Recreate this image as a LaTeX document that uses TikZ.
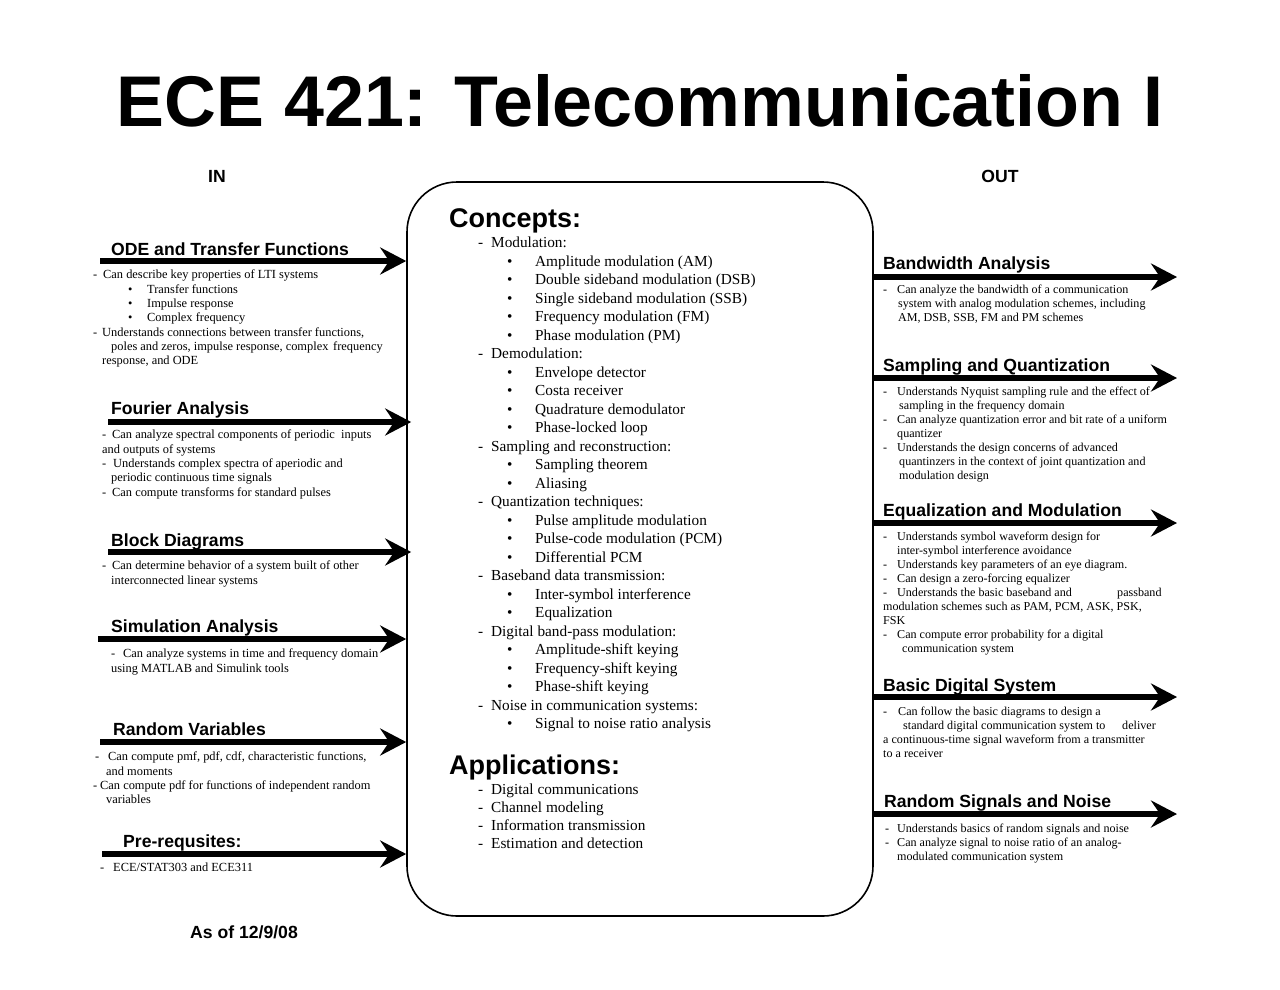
\documentclass[tikz,border=0pt]{standalone}
\usepackage{fontspec}
\setmainfont{Liberation Serif}
\newfontfamily\headfont{Liberation Sans}
\usetikzlibrary{arrows.meta}

\newcommand{\hy}[1]{\makebox[#1][l]{-}}
\newcommand{\bul}[2]{\hspace*{#1}\makebox[#2][l]{\textbullet}}
\newcommand{\sbul}{\bul{35pt}{19pt}}
\newcommand{\cbul}{\bul{29pt}{28pt}}

\begin{document}
\begin{tikzpicture}[x=1pt,y=-1pt,
  heading/.style={font=\headfont\bfseries\fontsize{17.6}{20}\selectfont,anchor=base west,inner sep=0pt},
  bighead/.style={font=\headfont\bfseries\fontsize{27}{30}\selectfont,anchor=base west,inner sep=0pt},
  textblock/.style={anchor=north west,inner sep=0pt,align=left,yshift=#1,yshift=-2pt,execute at begin node={\rule{0pt}{#1}}},
  lefttext/.style={textblock=10pt,font=\fontsize{12.4}{14.3}\selectfont},
  righttext/.style={textblock=10pt,font=\fontsize{12.1}{14}\selectfont},
  coretext/.style={textblock=13pt,font=\fontsize{15.3}{18.5}\selectfont},
  flow/.style={line width=5.5pt,-{Stealth[length=26pt,width=27pt,inset=9pt]}}]

\useasboundingbox (0,0) rectangle (1280,989);

% title
\node[font=\headfont\bfseries\fontsize{71.8}{80}\selectfont,anchor=base,inner sep=0pt] (title) at (640,126) {ECE 421: Telecommunication I};
\node[heading,anchor=base] (in) at (217,182) {IN};
\node[heading,anchor=base] (out) at (1000,182) {OUT};

% central box
\node[draw,line width=1.6pt,rounded corners=50pt,minimum width=466pt,minimum height=734pt,inner sep=0pt] (core) at (640,549) {};

\node[bighead] (concepts) at (449,227) {Concepts:};
\node[coretext] (conceptList) at (478,248) {\hy{13pt}Modulation:\\
\cbul Amplitude modulation (AM)\\
\cbul Double sideband modulation (DSB)\\
\cbul Single sideband modulation (SSB)\\
\cbul Frequency modulation (FM)\\
\cbul Phase modulation (PM)\\
\hy{13pt}Demodulation:\\
\cbul Envelope detector\\
\cbul Costa receiver\\
\cbul Quadrature demodulator\\
\cbul Phase-locked loop\\
\hy{13pt}Sampling and reconstruction:\\
\cbul Sampling theorem\\
\cbul Aliasing\\
\hy{13pt}Quantization techniques:\\
\cbul Pulse amplitude modulation\\
\cbul Pulse-code modulation (PCM)\\
\cbul Differential PCM\\
\hy{13pt}Baseband data transmission:\\
\cbul Inter-symbol interference\\
\cbul Equalization\\
\hy{13pt}Digital band-pass modulation:\\
\cbul Amplitude-shift keying\\
\cbul Frequency-shift keying\\
\cbul Phase-shift keying\\
\hy{13pt}Noise in communication systems:\\
\cbul Signal to noise ratio analysis};

\node[bighead] (apps) at (449,774) {Applications:};
\node[coretext,font=\fontsize{15.3}{18}\selectfont] (appList) at (478,795) {\hy{13pt}Digital communications\\
\hy{13pt}Channel modeling\\
\hy{13pt}Information transmission\\
\hy{13pt}Estimation and detection};

% inputs
\node[heading] (ode) at (111,255) {ODE and Transfer Functions};
\coordinate (odeIn) at (100,261);
\draw[flow] (odeIn) -- (odeIn -| core.west);
\node[lefttext] (odeTxt) at (93,278) {\hy{10pt}Can describe key properties of LTI systems\\
\sbul Transfer functions\\
\sbul Impulse response\\
\sbul Complex frequency\\
\hy{9pt}Understands connections between transfer functions,\\
\hspace*{18pt}\makebox[222pt][l]{poles and zeros, impulse response, complex}frequency\\
\hspace*{9pt}response, and ODE};

\node[heading] (fourier) at (111,414) {Fourier Analysis};
\coordinate (fourierIn) at (108,422);
\draw[flow,shorten >=-5pt] (fourierIn) -- (fourierIn -| core.west);
\node[lefttext] (fourierTxt) at (102,438) {\hy{10pt}Can analyze spectral components of periodic\ \ inputs\\
and outputs of systems\\
\hy{11pt}Understands complex spectra of aperiodic and\\
\hspace*{9pt}periodic continuous time signals\\
\hy{10pt}Can compute transforms for standard pulses};

\node[heading] (block) at (111,546) {Block Diagrams};
\coordinate (blockIn) at (108,552);
\draw[flow,shorten >=-5pt] (blockIn) -- (blockIn -| core.west);
\node[lefttext] (blockTxt) at (102,569) {\hy{10pt}Can determine behavior of a system built of other\\
\hspace*{9pt}interconnected linear systems};

\node[heading] (simul) at (111,632) {Simulation Analysis};
\coordinate (simulIn) at (98,639);
\draw[flow] (simulIn) -- (simulIn -| core.west);
\node[lefttext] (simulTxt) at (111,657) {\hy{12pt}Can analyze systems in time and frequency domain\\
using MATLAB and Simulink tools};

\node[heading] (randvar) at (113,735) {Random Variables};
\coordinate (randvarIn) at (100,742);
\draw[flow] (randvarIn) -- (randvarIn -| core.west);
\node[lefttext] (randvarTxt) at (93,760) {\hspace*{2pt}\hy{13pt}Can compute pmf, pdf, cdf, characteristic functions,\\
\hspace*{13pt}and moments\\
\hy{7pt}Can compute pdf for functions of independent random\\
\hspace*{13pt}variables};

\node[heading] (prereq) at (123,847) {Pre-requsites:};
\coordinate (prereqIn) at (102,854);
\draw[flow] (prereqIn) -- (prereqIn -| core.west);
\node[lefttext] (prereqTxt) at (100,869) {\hy{13pt}ECE/STAT303 and ECE311};

\node[heading] (date) at (190,938) {As of 12/9/08};

% outputs
\node[heading] (bw) at (883,269) {Bandwidth Analysis};
\coordinate (bwOut) at (1177,277);
\draw[flow] (core.east |- bwOut) -- (bwOut);
\node[righttext] (bwTxt) at (883,293) {\hy{14pt}Can analyze the bandwidth of a communication\\
\hspace*{15pt}system with analog modulation schemes, including\\
\hspace*{15pt}AM, DSB, SSB, FM and PM schemes};

\node[heading] (sampq) at (883,371) {Sampling and Quantization};
\coordinate (sampqOut) at (1177,378);
\draw[flow] (core.east |- sampqOut) -- (sampqOut);
\node[righttext] (sampqTxt) at (883,395) {\hy{14pt}Understands Nyquist sampling rule and the effect of\\
\hspace*{16pt}sampling in the frequency domain\\
\hy{14pt}Can analyze quantization error and bit rate of a uniform\\
\hspace*{14pt}quantizer\\
\hy{14pt}Understands the design concerns of advanced\\
\hspace*{16pt}quantinzers in the context of joint quantization and\\
\hspace*{16pt}modulation design};

\node[heading] (equal) at (883,516) {Equalization and Modulation};
\coordinate (equalOut) at (1177,523);
\draw[flow] (core.east |- equalOut) -- (equalOut);
\node[righttext] (equalTxt) at (883,540) {\hy{14pt}Understands symbol waveform design for\\
\hspace*{14pt}inter-symbol interference avoidance\\
\hy{14pt}Understands key parameters of an eye diagram.\\
\hy{14pt}Can design a zero-forcing equalizer\\
\hy{14pt}\makebox[220pt][l]{Understands the basic baseband and}passband\\
modulation schemes such as PAM, PCM, ASK, PSK,\\
FSK\\
\hy{14pt}Can compute error probability for a digital\\
\hspace*{19pt}communication system};

\node[heading] (digsys) at (883,691) {Basic Digital System};
\coordinate (digsysOut) at (1177,697);
\draw[flow] (core.east |- digsysOut) -- (digsysOut);
\node[righttext] (digsysTxt) at (883,715) {\hy{15pt}Can follow the basic diagrams to design a\\
\hspace*{20pt}\makebox[219pt][l]{standard digital communication system to}deliver\\
a continuous-time signal waveform from a transmitter\\
to a receiver};

\node[heading] (randsig) at (884,807) {Random Signals and Noise};
\coordinate (randsigOut) at (1177,814);
\draw[flow] (core.east |- randsigOut) -- (randsigOut);
\node[righttext] (randsigTxt) at (883,832) {\hspace*{2pt}\hy{12pt}Understands basics of random signals and noise\\
\hspace*{2pt}\hy{12pt}Can analyze signal to noise ratio of an analog-\\
\hspace*{14pt}modulated communication system};

\end{tikzpicture}
\end{document}
